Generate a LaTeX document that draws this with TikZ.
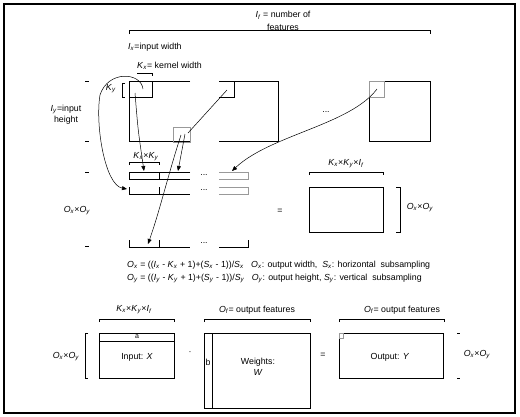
\documentclass[tikz,border=0pt]{standalone}
\usepackage{fontspec}
\setmainfont{Liberation Sans}
\usetikzlibrary{arrows.meta}
\newcommand\vr[2]{\textit{#1}\textsubscript{\textit{#2}}}
\begin{document}
\begin{tikzpicture}[x=1pt,y=-1pt,
  font=\fontsize{8.8}{10}\selectfont,
  ln/.style={line width=0.8pt},
  gln/.style={line width=0.9pt, draw=black!40},
  conn/.style={line width=0.5pt},
  arr/.style={line width=0.5pt, -{Triangle[length=5pt,width=4pt]}},
  lbl/.style={inner sep=0pt, align=center}]
\useasboundingbox (0,0) rectangle (520,416);
\draw[line width=1.5pt] (4,4) rectangle (515,413);

% top bracket
\draw[ln] (129,34) -- (129,30) -- (430,30) -- (430,34);
\node[lbl, font=\fontsize{8.8}{12.5}\selectfont] (lf) at (283,21) {\vr{I}{f} = number of\\features};
\node[lbl, anchor=west] (lx) at (128,47) {\vr{I}{x}=input width};
\node[lbl, anchor=west] (lk) at (137,66) {\vr{K}{x}= kernel width};
\draw[ln] (137,73) -- (152,73) -- (152,76);
\node[lbl, font=\fontsize{8.8}{11.5}\selectfont] (ly) at (66,114.5) {\vr{I}{y}=input\\height};
\node[lbl] (lky) at (111,89) {\vr{K}{y}};
\draw[ln] (125,83) -- (122,83) -- (122,97) -- (125,97);

% left ticks
\draw[ln] (85,81) -- (89,81);
\draw[ln] (85,141) -- (89,141);
\draw[ln] (85,172) -- (89,172);
\draw[ln] (85,246) -- (89,246);

% feature map A
\draw[ln] (190,81) -- (129,81) -- (129,141) -- (190,141);
\draw[ln] (219,81) -- (278,81) -- (278,141) -- (219,141);
\draw[ln] (129,81) rectangle (152,97);
\draw[ln] (219,97) -- (234,97) -- (234,81);
\draw[gln] (173,127) rectangle (190,142);
\node[lbl] (dots1) at (326,112) {...};
% feature map C
\draw[ln] (369,81) rectangle (430,141);
\draw[gln] (369,81) rectangle (384,97);

% unrolled rows
\node[lbl] (lkk) at (146,157) {\vr{K}{x}×\vr{K}{y}};
\draw[ln] (129,165) -- (129,162) -- (159,162) -- (159,165);
\draw[ln] (190,172) -- (129,172) -- (129,179) -- (190,179);
\draw[ln] (159,172) -- (159,179);
\draw[gln] (219,172) -- (248,172) -- (248,179) -- (219,179);
\node[lbl] (d1) at (204,175) {...};
\draw[ln] (129,187) -- (129,194) -- (190,194);
\draw[ln] (159,187) -- (159,194);
\draw[gln] (219,187) -- (248,187) -- (248,194) -- (219,194);
\node[lbl] (d2) at (204,190.5) {...};
\draw[ln] (129,240) -- (129,247) -- (190,247);
\draw[ln] (159,240) -- (159,247);
\draw[ln] (219,247) -- (248,247) -- (248,240);
\node[lbl] (d3) at (204,243.5) {...};
\node[lbl] (loo) at (77,211) {\vr{O}{x}×\vr{O}{y}};

% middle right matrix
\node[lbl] (eq1) at (280,211) {=};
\draw[ln] (309,187) rectangle (383,232);
\draw[ln] (309,175) -- (309,172) -- (383,172) -- (383,175);
\node[lbl] (lkki) at (346,164) {\vr{K}{x}×\vr{K}{y}×\vr{I}{f}};
\draw[ln] (396,187) -- (400,187) -- (400,232) -- (396,232);
\node[lbl] (loo2) at (420,208) {\vr{O}{x}×\vr{O}{y}};

% connectors
\coordinate (k1) at (143,89);
\coordinate (k1b) at (135,93);
\coordinate (k2) at (227,90);
\coordinate (g1) at (188,133);
\coordinate (g2) at (185,134);
\coordinate (g3) at (181,135);
\coordinate (kc) at (377,89);
\coordinate (r2l) at (127,189);
\coordinate (r1a) at (144,171);
\coordinate (r1b) at (178,171);
\coordinate (r1g) at (232,171);
\coordinate (rla) at (148,244);
\draw[arr] (k1) .. controls (141,72) and (108,70) .. (100,95) .. controls (95,125) and (105,185) .. (r2l);
\draw[arr] (k1b) .. controls (138,130) .. (r1a);
\draw[arr] (g2) .. controls (182,150) .. (r1b);
\draw[arr] (g3) .. controls (168,175) and (160,210) .. (rla);
\draw[arr] (kc) .. controls (350,125) and (270,135) .. (r1g);
\draw[conn] (k2) -- (g1);

% formulas
\node[lbl, anchor=west] (f1) at (127,265) {\vr{O}{x} = ((\vr{I}{x} - \vr{K}{x} + 1)+(\vr{S}{x} - 1))/\vr{S}{x} \ \ \vr{O}{x}: output width, \ \vr{S}{x}: horizontal \ subsampling};
\node[lbl, anchor=west] (f2) at (127,278) {\vr{O}{y} = ((\vr{I}{y} - \vr{K}{y} + 1)+(\vr{S}{y} - 1))/\vr{S}{y} \ \ \vr{O}{y}: output height, \vr{S}{y}: vertical \ subsampling};

% bottom: input
\node[lbl] (lin) at (134,310) {\vr{K}{x}×\vr{K}{y}×\vr{I}{f}};
\draw[ln] (99,322) -- (99,319) -- (174,319) -- (174,322);
\draw[ln] (99,333) rectangle (174,378);
\draw[ln] (99,341) -- (174,341);
\node[lbl, font=\fontsize{7}{8}\selectfont] (la) at (137,337) {a};
\node[lbl] (lX) at (137,357) {Input: \textit{X}};
\draw[ln] (88,333) -- (85,333) -- (85,378) -- (88,378);
\node[lbl] (loo3) at (66,357) {\vr{O}{x}×\vr{O}{y}};
\node[lbl] (dot) at (190,353) {·};

% weights
\node[lbl] (lw) at (257,310) {\vr{O}{f}= output features};
\draw[ln] (204,322) -- (204,319) -- (310,319) -- (310,322);
\draw[ln] (204,333) rectangle (310,408);
\draw[ln] (212,333) -- (212,408);
\node[lbl] (lb) at (208,362) {b};
\node[lbl, font=\fontsize{8.8}{10.5}\selectfont] (lW) at (258,367) {Weights:\\\textit{W}};

% output
\node[lbl] (eq2) at (323,355) {=};
\node[lbl] (lo) at (402,310) {\vr{O}{f}= output features};
\draw[ln] (339,322) -- (339,319) -- (444,319) -- (444,322);
\draw[ln] (339,333) rectangle (443,378);
\draw[gln, line width=0.6pt] (339.5,333.5) rectangle (343,338);
\node[lbl] (lY) at (390,357) {Output: \textit{Y}};
\draw[ln] (457,333) -- (460,333);
\draw[ln] (457,378) -- (460,378);
\node[lbl] (loo4) at (477,355) {\vr{O}{x}×\vr{O}{y}};
\end{tikzpicture}
\end{document}
